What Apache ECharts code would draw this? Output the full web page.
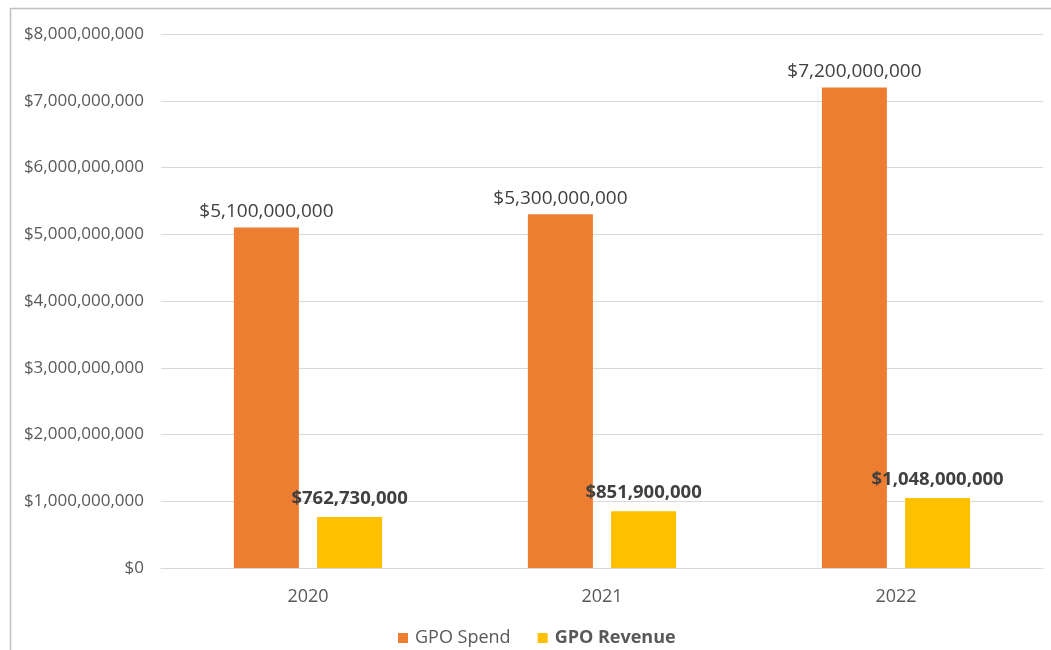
<!DOCTYPE html>
<html>
<head>
<meta charset="utf-8">
<script src="https://cdn.jsdelivr.net/npm/echarts@6/dist/echarts.min.js"></script>
<style>
  html, body { margin: 0; padding: 0; background: #fff; }
  #chart { width: 1051px; height: 650px; }
</style>
</head>
<body>
<div id="chart"></div>
<script>
// Yearly GPO spend and revenue (USD)
const years = ['2020', '2021', '2022'];
const gpoSpend = [5100000000, 5300000000, 7200000000];
const gpoRevenue = [762730000, 851900000, 1048000000];

const FONT = '"Open Sans", "Noto Sans", sans-serif';
const money = v => '$' + Number(v).toLocaleString('en-US');

const chart = echarts.init(document.getElementById('chart'), null, { renderer: 'canvas' });

chart.setOption({
  backgroundColor: '#ffffff',
  animation: false,
  textStyle: { fontFamily: FONT },
  graphic: [
    { type: 'line', shape: { x1: 10, y1: 8.5, x2: 1051, y2: 8.5 }, style: { stroke: '#bfbfbf', lineWidth: 1.5 } },
    { type: 'line', shape: { x1: 10.5, y1: 8, x2: 10.5, y2: 650 }, style: { stroke: '#bfbfbf', lineWidth: 1.5 } }
  ],
  grid: { left: 161, right: 8, top: 34, bottom: 82, containLabel: false },
  legend: {
    top: 624,
    left: 393,
    itemWidth: 10,
    itemHeight: 10,
    itemGap: 27,
    icon: 'rect',
    textStyle: {
      fontFamily: FONT, fontSize: 18, color: '#595959', padding: [0, 0, 0, 2],
      rich: { b: { fontFamily: FONT, fontSize: 18, fontWeight: 'bold', color: '#595959' } }
    },
    formatter: name => name === 'GPO Revenue' ? '{b|' + name + '}' : name,
    data: ['GPO Spend', 'GPO Revenue']
  },
  xAxis: {
    type: 'category',
    data: years,
    axisTick: { show: false },
    axisLine: { lineStyle: { color: '#d9d9d9', width: 1 } },
    axisLabel: { color: '#595959', fontSize: 18, fontFamily: FONT, margin: 20 }
  },
  yAxis: {
    type: 'value',
    min: 0,
    max: 8000000000,
    interval: 1000000000,
    axisLine: { show: false },
    axisTick: { show: false },
    splitLine: { lineStyle: { color: '#d9d9d9', width: 1 } },
    axisLabel: { color: '#595959', fontSize: 17, fontFamily: FONT, margin: 17, formatter: money }
  },
  series: [
    {
      name: 'GPO Spend',
      type: 'bar',
      data: gpoSpend,
      barWidth: 65,
      barGap: '28%',
      itemStyle: { color: '#ED7D31' },
      label: {
        show: true, position: 'top', distance: 6,
        color: '#404040', fontSize: 19, fontFamily: FONT,
        formatter: p => money(p.value)
      }
    },
    {
      name: 'GPO Revenue',
      type: 'bar',
      data: gpoRevenue,
      barWidth: 65,
      itemStyle: { color: '#FFC000' },
      label: {
        show: true, position: 'top', distance: 9,
        color: '#404040', fontSize: 18.5, fontWeight: 'bold', fontFamily: FONT,
        formatter: p => money(p.value)
      }
    }
  ]
});
</script>
</body>
</html>
